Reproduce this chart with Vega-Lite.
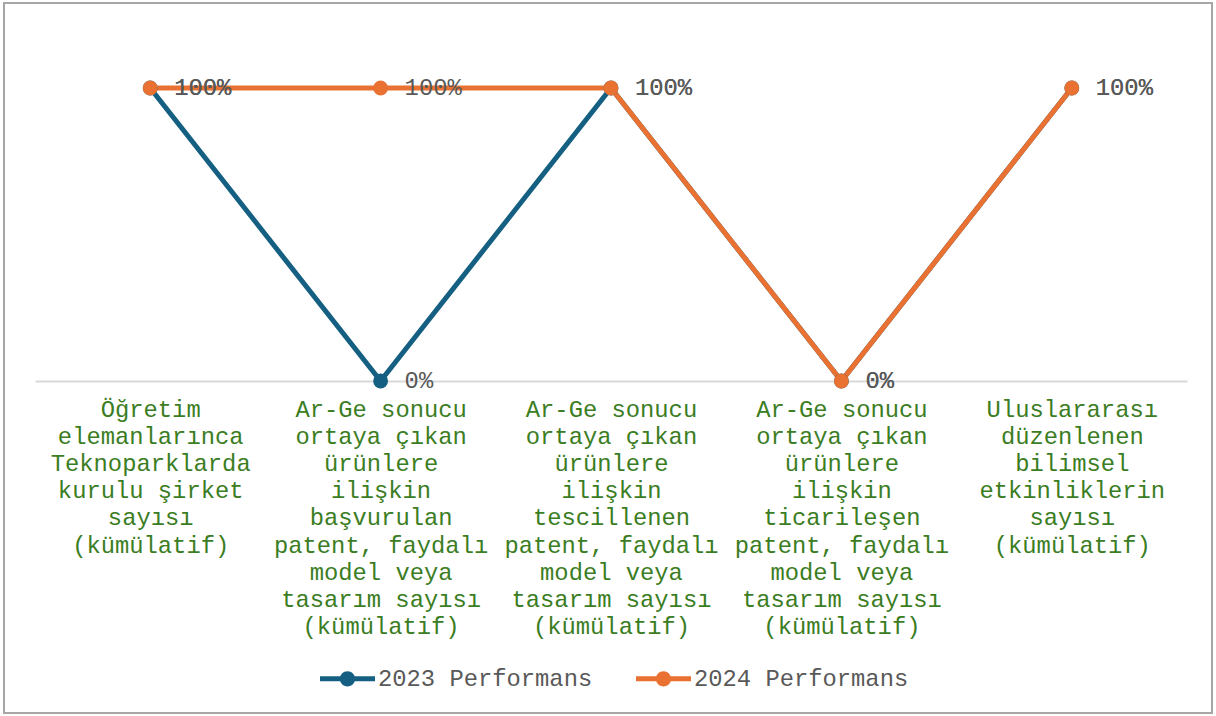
{
  "$schema": "https://vega.github.io/schema/vega-lite/v6.json",
  "width": 1208,
  "height": 710,
  "autosize": {"type": "none"},
  "padding": {"left": 4, "top": 3, "right": 4, "bottom": 3},
  "background": "#ffffff",
  "config": {"view": {"stroke": "#a6a6a6", "strokeWidth": 2}, "font": "Liberation Mono"},
  "data": {"values": [
    {"kategori": "Öğretim\nelemanlarınca\nTeknoparklarda\nkurulu şirket\nsayısı\n(kümülatif)", "seri": "2023 Performans", "deger": 1},
    {"kategori": "Ar-Ge sonucu\nortaya çıkan\nürünlere\nilişkin\nbaşvurulan\npatent, faydalı\nmodel veya\ntasarım sayısı\n(kümülatif)", "seri": "2023 Performans", "deger": 0},
    {"kategori": "Ar-Ge sonucu\nortaya çıkan\nürünlere\nilişkin\ntescillenen\npatent, faydalı\nmodel veya\ntasarım sayısı\n(kümülatif)", "seri": "2023 Performans", "deger": 1},
    {"kategori": "Ar-Ge sonucu\nortaya çıkan\nürünlere\nilişkin\nticarileşen\npatent, faydalı\nmodel veya\ntasarım sayısı\n(kümülatif)", "seri": "2023 Performans", "deger": 0},
    {"kategori": "Uluslararası\ndüzenlenen\nbilimsel\netkinliklerin\nsayısı\n(kümülatif)", "seri": "2023 Performans", "deger": 1},
    {"kategori": "Öğretim\nelemanlarınca\nTeknoparklarda\nkurulu şirket\nsayısı\n(kümülatif)", "seri": "2024 Performans", "deger": 1},
    {"kategori": "Ar-Ge sonucu\nortaya çıkan\nürünlere\nilişkin\nbaşvurulan\npatent, faydalı\nmodel veya\ntasarım sayısı\n(kümülatif)", "seri": "2024 Performans", "deger": 1},
    {"kategori": "Ar-Ge sonucu\nortaya çıkan\nürünlere\nilişkin\ntescillenen\npatent, faydalı\nmodel veya\ntasarım sayısı\n(kümülatif)", "seri": "2024 Performans", "deger": 1},
    {"kategori": "Ar-Ge sonucu\nortaya çıkan\nürünlere\nilişkin\nticarileşen\npatent, faydalı\nmodel veya\ntasarım sayısı\n(kümülatif)", "seri": "2024 Performans", "deger": 0},
    {"kategori": "Uluslararası\ndüzenlenen\nbilimsel\netkinliklerin\nsayısı\n(kümülatif)", "seri": "2024 Performans", "deger": 1}
  ]},
  "encoding": {
    "x": {
      "field": "kategori", "type": "nominal", "sort": null,
      "scale": {"range": [31, 1183], "padding": 0.5},
      "axis": {
        "title": null, "orient": "bottom", "offset": -332,
        "labelExpr": "split(datum.value, '\\n')",
        "labelAngle": 0, "labelFont": "Liberation Mono", "labelFontSize": 23.8,
        "labelColor": "#3b7d23", "labelLineHeight": 27.2, "labelPadding": 16,
        "labelLimit": 0, "labelBaseline": "top", "labelAlign": "center",
        "labelOverlap": false, "ticks": false, "grid": false,
        "domainColor": "#d9d9d9", "domainWidth": 2
      }
    },
    "y": {
      "field": "deger", "type": "quantitative",
      "scale": {"domain": [0, 1], "range": [378, 85], "nice": false, "zero": false},
      "axis": null
    },
    "color": {
      "field": "seri", "type": "nominal",
      "scale": {"domain": ["2023 Performans", "2024 Performans"], "range": ["#156082", "#e97132"]},
      "legend": {
        "title": null, "orient": "none", "legendX": 316, "legendY": 648,
        "direction": "horizontal", "padding": 0,
        "symbolType": "M-1,-0.09L1,-0.09L1,0.09L-1,0.09Z M0.28,0A0.28,0.28,0,1,1,-0.28,0A0.28,0.28,0,1,1,0.28,0Z",
        "symbolSize": 3025, "symbolStrokeWidth": 0,
        "labelFont": "Liberation Mono", "labelFontSize": 23.8, "labelColor": "#595959",
        "labelOffset": 3, "columnPadding": 43, "labelLimit": 0,
        "encode": {"symbols": {"update": {"fill": {"scale": "color", "field": "value"}, "strokeWidth": {"value": 0}, "opacity": {"value": 1}}}}
      }
    }
  },
  "layer": [
    {"mark": {"type": "line", "strokeWidth": 5, "strokeCap": "round", "strokeJoin": "round"}},
    {"mark": {"type": "point", "filled": true, "size": 220, "opacity": 1}},
    {
      "mark": {"type": "text", "align": "left", "baseline": "middle", "dx": 24, "fontSize": 23.8, "font": "Liberation Mono"},
      "encoding": {"text": {"field": "deger", "type": "quantitative", "format": ".0%"}, "color": {"value": "#595959"}}
    }
  ]
}
